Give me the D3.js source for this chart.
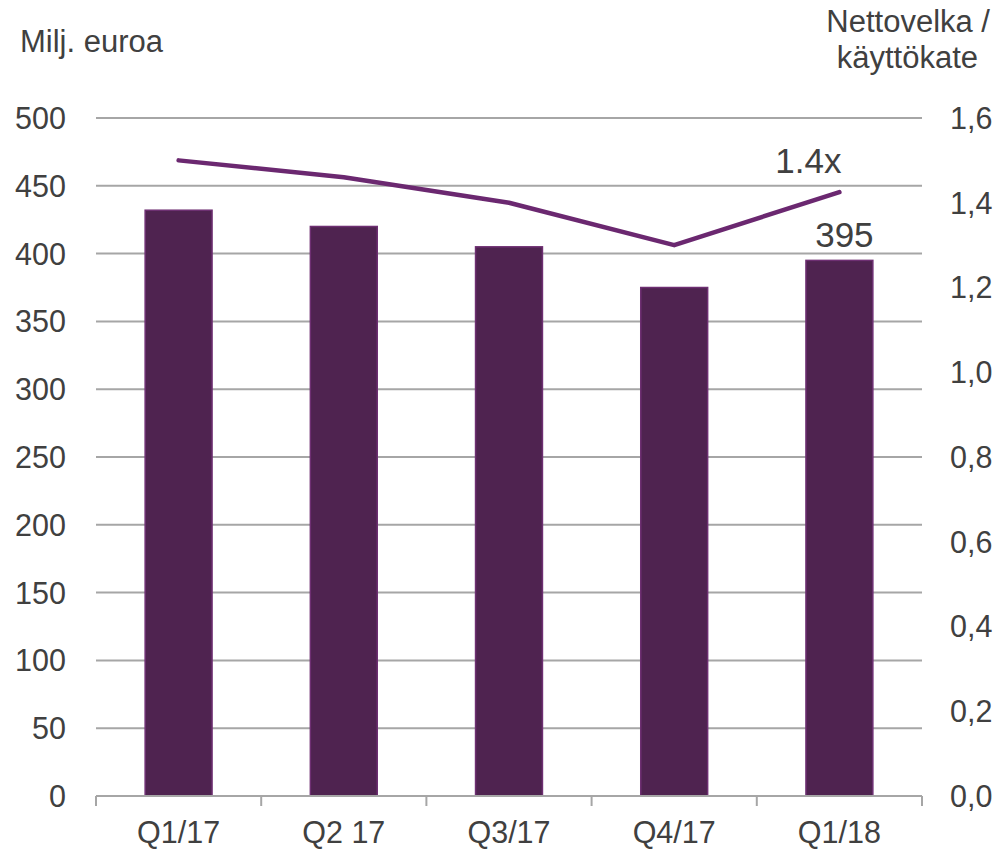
<!DOCTYPE html>
<html>
<head>
<meta charset="utf-8">
<script src="https://cdn.jsdelivr.net/npm/d3@7"></script>
<style>
    html, body { margin: 0; padding: 0; background: #ffffff; }
    svg { display: block; font-family: "Liberation Sans", Arial, sans-serif; }
</style>
</head>
<body>
<div id="chart"></div>
<script>
(function () {
    "use strict";

    const categories = ["Q1/17", "Q2 17", "Q3/17", "Q4/17", "Q1/18"];
    const netDebt = [432, 420, 405, 375, 395];
    const ratio = [1.50, 1.46, 1.40, 1.30, 1.425];
    const leftTicks = [0, 50, 100, 150, 200, 250, 300, 350, 400, 450, 500];
    const rightTicks = [0, 0.2, 0.4, 0.6, 0.8, 1.0, 1.2, 1.4, 1.6];

    const width = 1002;
    const height = 852;
    const margin = { top: 118, right: 80, bottom: 56, left: 96 };

    const barFill = "#4f2350";
    const barStroke = "#6e2f72";
    const lineColor = "#6b2870";
    const gridColor = "#a6a6a6";
    const textColor = "#404040";
    const tickSize = "30.5px";

    const svg = d3.select("#chart")
        .append("svg")
        .attr("width", width)
        .attr("height", height);

    const x = d3.scaleBand()
        .domain(categories)
        .range([margin.left, width - margin.right])
        .paddingInner(0.595)
        .paddingOuter(0.2975);

    const yLeft = d3.scaleLinear()
        .domain([0, 500])
        .range([height - margin.bottom, margin.top]);

    const yRight = d3.scaleLinear()
        .domain([0, 1.6])
        .range([height - margin.bottom, margin.top]);

    // gridlines
    svg.append("g")
        .selectAll("line")
        .data(leftTicks.filter((d) => d > 0))
        .join("line")
        .attr("x1", margin.left)
        .attr("x2", width - margin.right)
        .attr("y1", (d) => yLeft(d))
        .attr("y2", (d) => yLeft(d))
        .attr("stroke", gridColor)
        .attr("stroke-width", 2);

    // bars
    svg.append("g")
        .selectAll("rect")
        .data(netDebt)
        .join("rect")
        .attr("x", (d, i) => x(categories[i]))
        .attr("y", (d) => yLeft(d))
        .attr("width", x.bandwidth())
        .attr("height", (d) => yLeft(0) - yLeft(d))
        .attr("fill", barFill)
        .attr("stroke", barStroke)
        .attr("stroke-width", 1.5);

    // bottom axis line with ticks at band edges
    const xAxis = svg.append("g");
    xAxis.append("line")
        .attr("x1", margin.left)
        .attr("x2", width - margin.right)
        .attr("y1", yLeft(0))
        .attr("y2", yLeft(0))
        .attr("stroke", gridColor)
        .attr("stroke-width", 2);

    const edges = categories.map((c) => x(c) - x.step() * x.paddingInner() / 2);
    edges.push(width - margin.right);
    edges[0] = margin.left;
    xAxis.selectAll("line.tick")
        .data(edges)
        .join("line")
        .attr("class", "tick")
        .attr("x1", (d) => d)
        .attr("x2", (d) => d)
        .attr("y1", yLeft(0))
        .attr("y2", yLeft(0) + 10)
        .attr("stroke", gridColor)
        .attr("stroke-width", 2);

    xAxis.selectAll("text")
        .data(categories)
        .join("text")
        .attr("x", (d) => x(d) + x.bandwidth() / 2)
        .attr("y", 843)
        .attr("text-anchor", "middle")
        .attr("fill", textColor)
        .style("font-size", tickSize)
        .text((d) => d);

    // left tick labels
    svg.append("g")
        .selectAll("text")
        .data(leftTicks)
        .join("text")
        .attr("x", 66)
        .attr("y", (d) => yLeft(d))
        .attr("dy", "0.36em")
        .attr("text-anchor", "end")
        .attr("fill", textColor)
        .style("font-size", tickSize)
        .text((d) => d);

    // right tick labels
    const fmtRight = (d) => d.toFixed(1).replace(".", ",");
    svg.append("g")
        .selectAll("text")
        .data(rightTicks)
        .join("text")
        .attr("x", 950)
        .attr("y", (d) => yRight(d))
        .attr("dy", "0.36em")
        .attr("text-anchor", "start")
        .attr("fill", textColor)
        .style("font-size", tickSize)
        .text((d) => fmtRight(d));

    // ratio line
    const line = d3.line()
        .x((d, i) => x(categories[i]) + x.bandwidth() / 2)
        .y((d) => yRight(d));

    svg.append("path")
        .datum(ratio)
        .attr("d", line)
        .attr("fill", "none")
        .attr("stroke", lineColor)
        .attr("stroke-width", 4.5)
        .attr("stroke-linecap", "round")
        .attr("stroke-linejoin", "round");

    // annotations
    const last = categories.length - 1;
    svg.append("text")
        .attr("x", x(categories[last]) + x.bandwidth() / 2 - 31)
        .attr("y", 173)
        .attr("text-anchor", "middle")
        .attr("fill", textColor)
        .style("font-size", "35px")
        .text(ratio[last].toFixed(1) + "x");

    svg.append("text")
        .attr("x", x(categories[last]) + x.bandwidth() / 2 + 5)
        .attr("y", 247)
        .attr("text-anchor", "middle")
        .attr("fill", textColor)
        .style("font-size", "35px")
        .text(netDebt[last]);

    // axis titles
    svg.append("text")
        .attr("x", 20)
        .attr("y", 52)
        .attr("fill", textColor)
        .style("font-size", "31px")
        .text("Milj. euroa");

    const rightTitle = svg.append("text")
        .attr("text-anchor", "end")
        .attr("fill", textColor)
        .style("font-size", "31px");
    rightTitle.append("tspan").attr("x", 990).attr("y", 32).text("Nettovelka /");
    rightTitle.append("tspan").attr("x", 978).attr("y", 68).text("käyttökate");
})();
</script>
</body>
</html>
